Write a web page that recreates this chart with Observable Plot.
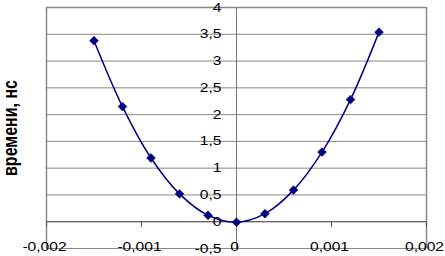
<!DOCTYPE html>
<html>
<head>
<meta charset="utf-8">
<script src="https://cdn.jsdelivr.net/npm/d3@7"></script>
<script src="https://cdn.jsdelivr.net/npm/@observablehq/plot@0.6"></script>
<style>
html, body { margin: 0; padding: 0; background: #fff; }
</style>
</head>
<body>
<div id="chart"></div>
<script>
const xValues = [-0.0015, -0.0012, -0.0009, -0.0006, -0.0003, 0, 0.0003, 0.0006, 0.0009, 0.0012, 0.0015];
const yValues = [3.38, 2.15, 1.19, 0.52, 0.12, -0.01, 0.15, 0.59, 1.3, 2.28, 3.54];
const xTicks = [-0.002, -0.001, 0, 0.001, 0.002];
const yTicks = [-0.5, 0, 0.5, 1, 1.5, 2, 2.5, 3, 3.5, 4];
const yLabel = "времени, нс";

const data = xValues.map((x, i) => ({x, y: yValues[i]}));
const fmt = v => String(v).replace(".", ",");
const stretch = 1.25;

const chart = Plot.plot({
  width: 445,
  height: 256,
  marginLeft: 46,
  marginRight: 19,
  marginTop: 7,
  marginBottom: 8,
  style: {fontFamily: "'Liberation Sans', Arial, sans-serif", fontSize: "12.5px", background: "#fff"},
  x: {domain: [-0.002, 0.002], axis: null},
  y: {domain: [-0.5, 4], axis: null},
  marks: [
    Plot.ruleY(yTicks, {stroke: "#888", strokeWidth: 1}),
    Plot.ruleX([-0.002, 0.002], {stroke: "#888", strokeWidth: 1.5}),
    Plot.ruleY([4], {stroke: "#888", strokeWidth: 1.5}),
    Plot.ruleX([0], {stroke: "#777", strokeWidth: 1}),
    Plot.ruleY([0], {stroke: "#555", strokeWidth: 1}),
    Plot.ruleX(xTicks, {x: d => d, y1: 0, y2: 0, insetBottom: -6, stroke: "#555"}),
    Plot.text(yTicks, {x: 0, y: d => d, text: d => fmt(d), textAnchor: "end", dx: -15, fill: "#000"}),
    Plot.text(xTicks, {x: d => d, y: -0.5, text: d => fmt(d), dx: -2, dy: -2, fill: "#000"}),
    Plot.line(data, {x: "x", y: "y", curve: "catmull-rom", stroke: "#000080", strokeWidth: 1.5}),
    Plot.dot(data, {x: "x", y: "y", symbol: "diamond2", r: 4, fill: "#000080", stroke: "#000080", strokeWidth: 0.5})
  ]
});

const svg = d3.select(chart);
svg.selectAll("g[aria-label=text] text").each(function() {
  const t = this.getAttribute("transform") || "";
  const x = this.getAttribute("x");
  if (x != null && /^-?[\d.]+$/.test(x)) this.setAttribute("x", +x / stretch);
  this.setAttribute("transform", (t + ` scale(${stretch},1)`).trim());
});

svg.append("text")
  .attr("transform", `translate(12,128) scale(${stretch},1) rotate(-90)`)
  .attr("text-anchor", "middle")
  .attr("dominant-baseline", "middle")
  .attr("font-weight", "bold")
  .attr("font-size", 16)
  .attr("font-family", "'Liberation Sans', Arial, sans-serif")
  .text(yLabel);

document.getElementById("chart").appendChild(chart);
</script>
</body>
</html>
